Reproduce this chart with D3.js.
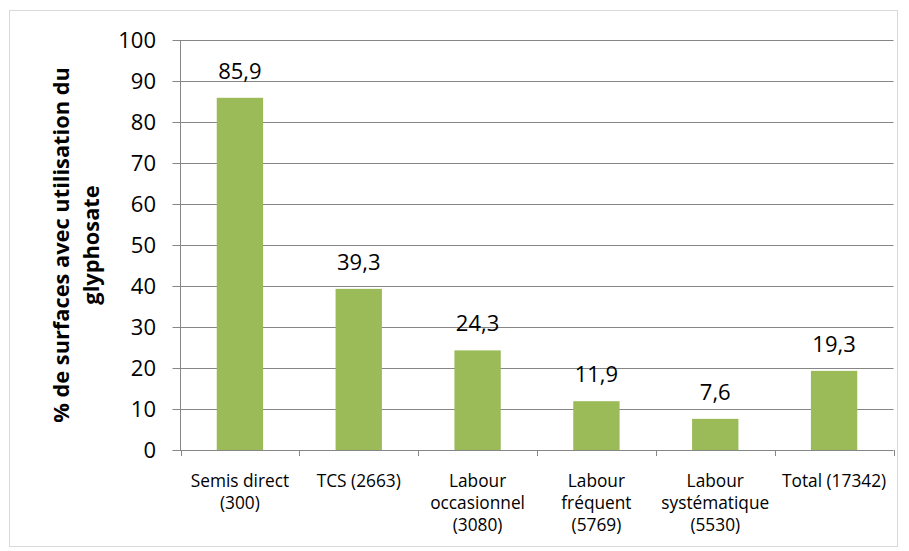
<!DOCTYPE html>
<html><head><meta charset="utf-8">
<script src="https://cdn.jsdelivr.net/npm/d3@7"></script>
<style>body{margin:0;background:#fff}svg{display:block}text{font-family:"Open Sans","Noto Sans",sans-serif;fill:#000}</style>
</head><body><svg id="c" width="909" height="551"></svg>
<script>
const categories = [["Semis direct","(300)"],["TCS (2663)"],["Labour","occasionnel","(3080)"],["Labour","fréquent","(5769)"],["Labour","systématique","(5530)"],["Total (17342)"]];
const values = [85.9, 39.3, 24.3, 11.9, 7.6, 19.3];
const yTicks = [0,10,20,30,40,50,60,70,80,90,100];
const yTitle = ["% de surfaces avec utilisation du","glyphosate"];

const svg = d3.select("#c");
svg.append("rect").attr("x",9.5).attr("y",10.5).attr("width",888).attr("height",536).attr("fill","#fff").attr("stroke","#d9d9d9");
const L=180.5, R=893.5, T=40, B=450;
const x = d3.scaleBand().domain(d3.range(values.length)).range([L,R]).paddingInner(0.61).paddingOuter(0.305);
const xb = d3.scaleBand().domain(d3.range(values.length)).range([L,R]);
const y = d3.scaleLinear().domain([0,100]).range([B,T]);

// gridlines
svg.append("g").selectAll("line").data(yTicks).join("line")
  .attr("x1",L-8).attr("x2",R).attr("y1",d=>Math.round(y(d))+0.5).attr("y2",d=>Math.round(y(d))+0.5)
  .attr("stroke","#868686").attr("stroke-width",1);
// y axis
svg.append("line").attr("x1",L).attr("x2",L).attr("y1",T).attr("y2",B+0.5).attr("stroke","#868686");
svg.append("g").selectAll("text").data(yTicks).join("text")
  .attr("x",156).attr("y",d=>y(d)).attr("dy","0.36em").attr("text-anchor","end")
  .style("font-size","22px").text(d=>d);
// x ticks
svg.append("g").selectAll("line").data(d3.range(values.length+1)).join("line")
  .attr("x1",i=>Math.round(L+i*xb.step())+0.5).attr("x2",i=>Math.round(L+i*xb.step())+0.5)
  .attr("y1",B).attr("y2",B+6).attr("stroke","#868686");
// bars
svg.append("g").selectAll("rect").data(values).join("rect")
  .attr("x",(d,i)=>x(i)).attr("width",x.bandwidth())
  .attr("y",d=>y(d)).attr("height",d=>B-y(d)).attr("fill","#9BBB59");
// data labels
svg.append("g").selectAll("text").data(values).join("text")
  .attr("x",(d,i)=>x(i)+x.bandwidth()/2).attr("y",d=>y(d)-19)
  .attr("text-anchor","middle").style("font-size","22px")
  .text(d=>String(d).replace(".",","));
// category labels
const cl = svg.append("g").selectAll("text").data(categories).join("text")
  .attr("text-anchor","middle").style("font-size","17.3px");
cl.each(function(lines,i){
  const t=d3.select(this);
  lines.forEach((s,j)=>t.append("tspan").attr("x",xb(i)+xb.bandwidth()/2).attr("y",487+j*22).text(s));
});
// y title
const yt = svg.append("text").attr("transform","translate(0,245) rotate(-90)")
  .attr("text-anchor","middle").style("font-size","21.8px").style("font-weight","bold");
yTitle.forEach((s,j)=>yt.append("tspan").attr("x",0).attr("y",69+j*30).text(s));
</script></body></html>
